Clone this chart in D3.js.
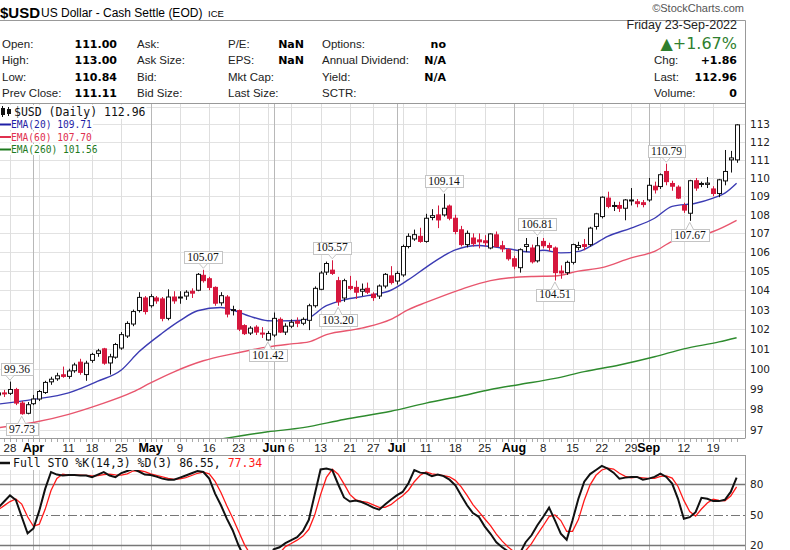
<!DOCTYPE html>
<html>
<head>
<meta charset="utf-8">
<script src="https://cdn.jsdelivr.net/npm/d3@7"></script>
<style>
  body { margin: 0; background: #fff; }
  svg { display: block; }
</style>
</head>
<body>
<svg id="chart" width="790" height="550" font-family="'Liberation Sans', Arial, sans-serif"></svg>
<script>
/* Chart data
--------------------------------------------------------------------------------
*/
var holidays = ["2022-04-15", "2022-05-30", "2022-06-20", "2022-07-04", "2022-09-05"];
var firstDay = "2022-03-24", lastDay = "2022-09-23";

var opens = [98.70,98.80,98.78,98.97,98.30,97.80,98.27,98.50,98.82,99.35,
  99.50,99.70,99.62,99.90,100.33,99.71,100.42,100.77,101.00,100.29,
  100.58,101.04,101.65,102.26,102.95,103.60,103.20,103.60,103.55,102.55,
  103.65,103.60,103.70,103.95,104.00,104.78,104.60,104.15,103.35,103.65,
  102.95,102.95,102.18,101.80,102.10,101.80,101.45,101.70,102.50,101.85,
  102.15,102.40,102.30,102.45,103.20,104.05,104.95,105.05,104.50,103.60,
  104.20,104.15,103.95,104.10,103.80,103.70,104.22,104.75,104.48,104.80,
  106.30,106.70,106.84,106.57,107.85,107.99,107.99,108.47,107.81,107.19,
  106.40,106.75,106.65,106.60,106.22,106.92,106.34,106.13,105.65,105.18,
  106.30,106.22,105.54,106.57,106.35,106.22,105.00,104.92,105.46,106.25,
  106.40,106.40,107.37,107.90,108.90,108.45,108.50,108.35,108.75,108.70,
  108.65,108.80,109.55,109.53,110.36,109.70,109.50,108.50,108.08,109.85,
  109.65,109.65,109.40,109.15,109.84,111.00,111.00];
var highs = [98.95,98.95,99.36,99.05,98.40,98.35,98.70,98.95,99.40,99.60,
  99.80,100.11,100.00,100.30,100.50,100.40,100.80,101.00,101.05,100.75,
  101.30,101.85,102.40,103.00,103.90,103.70,103.80,103.70,103.65,104.05,
  103.95,103.95,104.00,104.10,104.90,105.07,104.70,104.20,103.90,103.75,
  103.20,103.00,102.25,102.15,102.20,102.10,101.90,102.85,102.60,102.30,
  102.50,102.60,102.60,103.30,104.20,105.00,105.50,105.57,104.70,104.60,
  104.75,104.50,104.35,104.40,103.90,104.30,104.90,105.26,105.00,106.40,
  107.00,107.20,107.30,108.05,108.30,108.50,109.14,108.55,108.00,107.40,
  107.15,107.00,107.00,106.90,107.00,107.10,106.60,106.20,105.80,106.20,
  106.75,106.40,106.81,106.75,106.50,106.30,105.30,105.55,106.45,106.55,
  106.70,107.35,108.10,109.00,109.25,108.70,108.70,108.85,109.45,108.85,
  108.80,110.00,109.80,110.25,110.79,109.85,109.60,108.65,109.90,110.00,
  109.80,110.05,109.55,109.95,111.55,111.50,113.00];
var lows = [98.55,98.60,98.70,98.20,97.73,97.75,98.20,98.40,98.75,99.20,
  99.40,99.55,99.50,99.80,99.70,99.40,100.30,100.60,100.20,99.71,
  100.50,100.95,101.55,102.15,102.85,102.75,103.10,103.30,102.40,102.45,
  103.30,103.30,103.50,103.60,103.95,104.40,104.00,103.20,103.20,102.60,
  102.70,101.90,101.70,101.70,101.70,101.55,101.42,101.60,101.80,101.70,
  102.05,102.10,102.20,101.95,103.10,104.00,104.80,104.80,103.20,103.40,
  104.00,103.55,103.70,103.80,103.45,103.55,104.10,104.30,104.30,104.70,
  106.20,106.60,106.50,106.50,107.70,107.28,107.90,107.70,106.95,106.30,
  106.25,106.30,106.20,106.30,106.15,106.25,106.00,105.55,105.10,104.92,
  106.00,105.40,105.45,106.20,106.05,104.51,104.60,104.80,105.35,106.10,
  106.10,106.30,107.20,107.80,108.35,108.20,108.15,107.70,108.50,108.40,
  108.40,108.70,109.15,109.40,109.60,109.30,108.85,108.10,107.67,109.30,
  109.50,109.45,109.00,108.95,109.60,110.30,110.84];
var closes = [98.80,98.75,98.97,98.30,97.78,98.22,98.50,98.87,99.32,99.48,
  99.65,99.62,99.89,100.19,99.82,100.28,100.72,100.90,100.28,100.60,
  101.22,101.72,102.29,102.90,103.63,102.90,103.67,103.45,102.55,103.65,
  103.45,103.65,103.90,103.85,104.83,104.50,104.15,103.33,103.72,102.77,
  103.00,102.00,101.77,102.05,101.85,101.75,101.78,102.55,101.85,102.15,
  102.35,102.30,102.50,103.20,104.10,104.90,105.40,104.88,103.40,104.50,
  104.10,103.90,104.05,103.90,103.62,104.22,104.83,104.40,104.88,106.30,
  106.84,106.93,106.57,107.81,107.95,107.72,108.35,107.81,107.10,106.40,
  107.00,106.45,106.55,106.50,106.97,106.30,106.17,105.65,105.26,106.13,
  106.40,105.49,106.34,106.34,106.25,104.92,104.90,105.46,106.40,106.35,
  106.30,107.28,108.05,108.95,108.45,108.50,108.35,108.80,108.80,108.60,
  108.55,109.60,109.35,110.18,109.80,109.55,108.90,108.25,109.85,109.45,
  109.70,109.72,109.15,109.90,110.36,111.11,112.96];

// moving averages at a few dates
var ema20 = [["03-24",98.25],["04-01",98.48],["04-11",98.80],["04-19",99.38],["04-25",99.94],
  ["04-28",100.85],["05-04",101.80],["05-09",102.43],["05-12",102.94],["05-18",103.11],
  ["05-20",102.98],["05-25",102.65],["05-31",102.43],["06-02",102.42],["06-08",102.45],
  ["06-14",103.20],["06-17",103.50],["06-24",103.72],["06-30",104.00],["07-06",104.55],
  ["07-11",105.20],["07-14",105.80],["07-18",106.12],["07-22",106.35],["07-26",106.30],
  ["08-01",106.13],["08-04",106.00],["08-08",106.10],["08-11",105.96],["08-16",106.04],
  ["08-18",106.30],["08-23",106.84],["08-29",107.28],["09-02",107.81],["09-08",108.45],
  ["09-14",108.62],["09-19",108.90],["09-21",109.17],["09-23",109.71]];
var ema60 = [["03-24",97.10],["04-01",97.35],["04-11",97.75],["04-19",98.20],["04-27",98.85],
  ["05-02",99.30],["05-06",99.85],["05-13",100.40],["05-20",100.75],["05-31",101.10],
  ["06-06",101.25],["06-09",101.35],["06-14",101.72],["06-23",102.05],["06-30",102.50],
  ["07-06",103.00],["07-11",103.37],["07-19",104.05],["07-26",104.50],["08-04",104.72],
  ["08-10",104.74],["08-16",105.00],["08-22",105.18],["08-29",105.70],["09-02",106.04],
  ["09-08",106.57],["09-14",106.84],["09-19",107.10],["09-23",107.70]];
var ema260 = [["05-18",96.55],["05-31",96.90],["06-08",97.10],["06-17",97.50],["06-30",97.90],
  ["07-11",98.30],["07-19",98.65],["07-26",98.97],["08-02",99.22],["08-10",99.52],
  ["08-17",99.86],["08-25",100.19],["09-02",100.60],["09-12",101.00],["09-20",101.35],
  ["09-23",101.56]];

var stoK = [57,63,69,64.5,48,31.7,36.5,54,75.4,92,
  89.5,88.6,89,89,88.6,88.6,87,89.5,92,88.6,
  87,91,93,95,92.5,89.5,89,87.5,85.5,84.5,
  84.5,86.5,88.6,90.8,93,92,85.5,70.8,59.3,46.2,
  34.8,20,8,5,6,4,3,16,18,22,
  25,28,34,45,70,94.5,95.5,94,80,67,
  63,64,62.5,60,57,55,60,64.7,69,72.4,
  81,94,91.4,90.8,88,89.5,88,84.5,79,69,
  59.3,51.7,48,38.6,31.3,23,18,14,9,12,
  23,29.8,39.7,48,57,44.5,31.3,25.4,44.5,65.7,
  82.5,90,94,98,95.4,91.4,85.5,86.5,87.2,87.2,
  84.5,85.5,87.2,90.5,87.2,80.6,65.7,46,47.6,52.5,
  66.7,65.7,63.4,63.4,64.7,72.4,86.55];
var stoD = [55,59,63,65.5,60.5,48,38.7,40.7,55.3,73.8,
  85.6,90,89,88.9,88.9,88.7,88.1,88.4,89.5,90,
  89.2,88.9,90.3,93,93.5,92.3,90.3,88.7,87.3,85.8,
  84.8,85.2,86.5,88.6,90.8,91.9,90.2,82.8,71.9,58.8,
  46.8,33.7,20.9,11,6.3,5,4.3,7.7,12.3,18.7,
  21.7,25,29,35.7,49.7,69.8,86.7,94.7,89.8,80.3,
  70,64.7,63.2,62.2,59.8,57.3,57.3,59.9,64.6,68.7,
  74.1,82.5,88.8,92.1,90.1,89.4,88.5,87.3,83.8,77.5,
  69.1,60,53,46.1,39.3,31,24.1,18.3,13.7,11.7,
  14.7,21.6,30.8,39.2,48.2,49.8,44.3,33.7,33.7,45.2,
  64.2,79.4,88.8,94,95.8,94.9,90.8,87.8,86.4,87,
  86.3,85.7,85.7,87.7,88.3,86.1,77.8,64.1,53.1,48.7,
  55.6,61.6,65.3,64.2,63.8,68.5,77.34];

var peakDates = ["03-28","03-30","05-13","05-31","06-15","06-16","07-14","08-05","08-10","09-07","09-13"];
var peakValues = [99.36,97.73,105.07,101.42,105.57,103.20,109.14,106.81,104.51,110.79,107.67];
var peakKinds = ["high","low","high","low","high","low","high","high","low","high","low"];

var priceTicks = [97,98,99,100,101,102,103,104,105,106,107,108,109,110,111,112,113];
var priceGrid = [97,98,99,100,101,102,103,104,105,106,107,108,109,110,111,112,113,114];
var stoTicks = [80,50,20];

/* Layout
--------------------------------------------------------------------------------
*/
var svg = d3.select("#chart");
var right = 745,
    priceTop = 103, priceBottom = 438,
    stoTop = 455, stoBottom = 560;
var sans = "'DejaVu Sans', sans-serif",
    mono = "'DejaVu Sans Mono', monospace",
    serif = "'Liberation Serif', serif";

var parseDay = d3.timeParse("%Y-%m-%d"),
    fmtDay = d3.timeFormat("%Y-%m-%d");

var dates = d3.timeDay.range(parseDay(firstDay), d3.timeDay.offset(parseDay(lastDay), 1))
  .filter(function(d) { return d.getDay() > 0 && d.getDay() < 6 && holidays.indexOf(fmtDay(d)) < 0; })
  .map(fmtDay);

var x = d3.scalePoint().domain(dates).range([-1.72, 736.6]);
var y = d3.scaleLog().domain([96.6, 114.2]).range([priceBottom, priceTop]);
var ySto = d3.scaleLinear().domain([0, 100]).range([565.6, 463.9]);

function px(v) { return Math.round(v) + 0.5; }
function day(md) { return "2022-" + md; }

var defs = svg.append("defs");
defs.append("clipPath").attr("id", "clipPrice").append("rect")
  .attr("x", 0).attr("y", priceTop).attr("width", right).attr("height", priceBottom - priceTop);
defs.append("clipPath").attr("id", "clipSto").append("rect")
  .attr("x", 0).attr("y", stoTop).attr("width", right).attr("height", stoBottom - stoTop);

/* Header
--------------------------------------------------------------------------------
*/
var head = svg.append("g");
head.append("text").attr("x", 0).attr("y", 18).attr("font-size", 15).attr("font-weight", "bold").text("$USD");
head.append("text").attr("x", 41).attr("y", 17).attr("font-size", 12).text("US Dollar - Cash Settle (EOD)");
head.append("text").attr("x", 208).attr("y", 17).attr("font-size", 9.5).text("ICE");
head.append("text").attr("x", 744).attr("y", 12).attr("text-anchor", "end")
  .attr("font-size", 11).attr("fill", "#555").text("\u00a9StockCharts.com");

head.append("line").attr("x1", 0).attr("x2", right + 0.5).attr("y1", 20.5).attr("y2", 20.5).attr("stroke", "#999");
head.append("line").attr("x1", right + 0.5).attr("x2", right + 0.5).attr("y1", 20.5).attr("y2", priceBottom).attr("stroke", "#999");

var infoLabels = [["Open:", "High:", "Low:", "Prev Close:"],
                  ["Ask:", "Ask Size:", "Bid:", "Bid Size:"],
                  ["P/E:", "EPS:", "Mkt Cap:", "Last Size:"],
                  ["Options:", "Annual Dividend:", "Yield:", "SCTR:"]];
var infoValues = [["111.00", "113.00", "110.84", "111.11"],
                  ["", "", "", ""],
                  ["NaN", "NaN", "", ""],
                  ["no", "N/A", "N/A", ""]];
var labelX = [2, 137, 228, 322], valueEnd = [117, 0, 304, 446];
var rowY = [47.5, 64, 80.5, 97];

infoLabels.forEach(function(col, c) {
  col.forEach(function(lab, r) {
    head.append("text").attr("x", labelX[c]).attr("y", rowY[r]).attr("font-size", 11.5).attr("fill", "#222").text(lab);
    if (infoValues[c][r]) {
      head.append("text").attr("x", valueEnd[c]).attr("y", rowY[r]).attr("text-anchor", "end")
        .attr("font-family", sans).attr("font-weight", "bold").attr("font-size", 11)
        .text(infoValues[c][r]);
    }
  });
});

head.append("text").attr("x", 737).attr("y", 29).attr("text-anchor", "end").attr("font-size", 12.5).attr("fill", "#222")
  .text("Friday  23-Sep-2022");
head.append("text").attr("x", 737).attr("y", 49).attr("text-anchor", "end")
  .attr("font-family", sans).attr("font-size", 16).attr("fill", "#2f7f2f")
  .text("\u25b2+1.67%");
var rightRows = [["Chg:", "+1.86"], ["Last:", "112.96"], ["Volume:", "0"]];
rightRows.forEach(function(r, k) {
  head.append("text").attr("x", 654).attr("y", rowY[k + 1]).attr("font-size", 11.5).attr("fill", "#222").text(r[0]);
  head.append("text").attr("x", 737).attr("y", rowY[k + 1]).attr("text-anchor", "end")
    .attr("font-family", sans).attr("font-weight", "bold").attr("font-size", 11).text(r[1]);
});

/* Grid
--------------------------------------------------------------------------------
*/
var weekStarts = [], monthStarts = [];
dates.forEach(function(d, i) {
  if (i === 0) return;
  var cur = parseDay(d), prev = parseDay(dates[i - 1]);
  if (cur.getMonth() !== prev.getMonth()) monthStarts.push(i);
  if (+d3.timeMonday.floor(cur) !== +d3.timeMonday.floor(prev)) weekStarts.push(i);
});

var grid = svg.append("g");
priceGrid.forEach(function(v) {
  grid.append("line").attr("x1", 0).attr("x2", right).attr("y1", px(y(v))).attr("y2", px(y(v))).attr("stroke", "#e2e2e2");
});
d3.range(10, 100, 10).forEach(function(v) {
  if (stoTicks.indexOf(v) >= 0) return;
  grid.append("line").attr("x1", 0).attr("x2", right).attr("y1", px(ySto(v))).attr("y2", px(ySto(v))).attr("stroke", "#ececec");
});
var vlines = weekStarts.concat(monthStarts.filter(function(m) { return weekStarts.indexOf(m) < 0; }));
vlines.forEach(function(i) {
  var isMonth = monthStarts.indexOf(i) >= 0;
  var col = isMonth ? "#b8b8b8" : "#dedede";
  var xx = px(x(dates[i]));
  grid.append("line").attr("x1", xx).attr("x2", xx).attr("y1", priceTop).attr("y2", priceBottom).attr("stroke", col);
  grid.append("line").attr("x1", xx).attr("x2", xx).attr("y1", stoTop).attr("y2", stoBottom).attr("stroke", col);
});

// panel borders
svg.append("line").attr("x1", 0).attr("x2", right + 0.5).attr("y1", priceTop + 0.5).attr("y2", priceTop + 0.5).attr("stroke", "#999");
svg.append("line").attr("x1", 0).attr("x2", right + 0.5).attr("y1", priceBottom + 0.5).attr("y2", priceBottom + 0.5).attr("stroke", "#999");
svg.append("line").attr("x1", 0).attr("x2", right + 0.5).attr("y1", stoTop + 0.5).attr("y2", stoTop + 0.5).attr("stroke", "#999");
svg.append("line").attr("x1", right + 0.5).attr("x2", right + 0.5).attr("y1", stoTop).attr("y2", 550).attr("stroke", "#999");

/* Axes
--------------------------------------------------------------------------------
*/
var axes = svg.append("g");
priceTicks.forEach(function(v) {
  axes.append("text").attr("x", 750).attr("y", y(v) + 4).attr("font-family", sans)
    .attr("font-size", 10.5).attr("fill", "#222").text(v);
});
stoTicks.forEach(function(v) {
  axes.append("text").attr("x", 750).attr("y", ySto(v) + 4).attr("font-family", sans)
    .attr("font-size", 10.5).attr("fill", "#222").text(v);
});
dates.forEach(function(d) {
  var xx = px(x(d));
  axes.append("line").attr("x1", xx).attr("x2", xx).attr("y1", priceBottom + 1).attr("y2", priceBottom + 4).attr("stroke", "#aaa");
});
var fmtMonth = d3.timeFormat("%b");
monthStarts.forEach(function(i) {
  axes.append("text").attr("x", x(dates[i])).attr("y", 452).attr("text-anchor", "middle")
    .attr("font-size", 12.5).attr("font-weight", "bold").text(fmtMonth(parseDay(dates[i])));
});
weekStarts.forEach(function(i) {
  var near = monthStarts.some(function(m) { return Math.abs(m - i) <= 2; });
  if (near) return;
  axes.append("text").attr("x", x(dates[i])).attr("y", 452).attr("text-anchor", "middle")
    .attr("font-size", 11.5).attr("fill", "#222").text(+d3.timeFormat("%d")(parseDay(dates[i])));
});

/* Price panel
--------------------------------------------------------------------------------
*/
var gPrice = svg.append("g").attr("clip-path", "url(#clipPrice)");

var emaLine = d3.line()
  .x(function(d) { return x(day(d[0])); })
  .y(function(d) { return y(d[1]); })
  .curve(d3.curveMonotoneX);

gPrice.append("path").datum(ema260).attr("d", emaLine).attr("fill", "none").attr("stroke", "#2e8b2e").attr("stroke-width", 1.4);
gPrice.append("path").datum(ema60).attr("d", emaLine).attr("fill", "none").attr("stroke", "#e8566e").attr("stroke-width", 1.4);
gPrice.append("path").datum(ema20).attr("d", emaLine).attr("fill", "none").attr("stroke", "#3b3bb3").attr("stroke-width", 1.4);

var candles = dates.map(function(d, i) {
  return { date: d, o: opens[i], h: highs[i], l: lows[i], c: closes[i] };
});
var upCol = "#111", downCol = "#d6173d";

gPrice.selectAll(".wick").data(candles).join("line")
  .attr("x1", function(d) { return px(x(d.date)); })
  .attr("x2", function(d) { return px(x(d.date)); })
  .attr("y1", function(d) { return y(d.h); })
  .attr("y2", function(d) { return y(d.l); })
  .attr("stroke", function(d) { return d.c >= d.o ? upCol : downCol; });

gPrice.selectAll(".body").data(candles).join("rect")
  .attr("x", function(d) { return Math.round(x(d.date)) - 2 + 0.5; })
  .attr("y", function(d) { return y(Math.max(d.o, d.c)); })
  .attr("width", 4)
  .attr("height", function(d) { return Math.max(1, Math.abs(y(d.o) - y(d.c))); })
  .attr("fill", function(d) { return d.c >= d.o ? "#fff" : downCol; })
  .attr("stroke", function(d) { return d.c >= d.o ? upCol : downCol; });

// high / low call-outs
var notes = svg.append("g").attr("clip-path", "url(#clipPrice)");
peakDates.forEach(function(md, k) {
  var cx = x(day(md)), vy = y(peakValues[k]), isHigh = peakKinds[k] === "high";
  var g = notes.append("g");
  var t = g.append("text").attr("text-anchor", "middle")
    .attr("font-family", serif).attr("font-size", 11.5).attr("fill", "#111")
    .text(peakValues[k].toFixed(2));
  var w = Math.round(t.node().getComputedTextLength() + 6), h = 12;
  var left = Math.max(1, Math.round(cx - w / 2));
  var top = isHigh ? vy - 6.5 - h : vy + 8.5;
  t.attr("x", left + w / 2).attr("y", top + 9.5);
  g.insert("rect", "text").attr("x", left + 0.5).attr("y", Math.round(top) + 0.5)
    .attr("width", w).attr("height", h).attr("fill", "#fff").attr("stroke", "#c4c4c4");
  var edge = isHigh ? top + h : top, tip = isHigh ? vy - 1.5 : vy + 1.5;
  g.append("path")
    .attr("d", "M" + (cx - 4) + "," + (edge + 0.5) + "L" + cx + "," + tip + "L" + (cx + 4) + "," + (edge + 0.5))
    .attr("fill", "#fff").attr("stroke", "#c4c4c4");
});

/* Stochastics panel
--------------------------------------------------------------------------------
*/
var gSto = svg.append("g").attr("clip-path", "url(#clipSto)");
stoTicks.forEach(function(v) {
  gSto.append("line").attr("x1", 0).attr("x2", right).attr("y1", px(ySto(v))).attr("y2", px(ySto(v)))
    .attr("stroke", "#777").attr("stroke-width", v === 50 ? 1 : 1.5)
    .attr("stroke-dasharray", v === 50 ? "9,3,2,3" : null);
});
var stoLine = function(vals) {
  return d3.line()
    .x(function(d, i) { return x(dates[i]); })
    .y(function(d) { return ySto(d); })(vals);
};
gSto.append("path").attr("d", stoLine(stoD)).attr("fill", "none").attr("stroke", "#ff1a1a").attr("stroke-width", 1.3);
gSto.append("path").attr("d", stoLine(stoK)).attr("fill", "none").attr("stroke", "#111").attr("stroke-width", 2);

/* Legends
--------------------------------------------------------------------------------
*/
function addLegend(x0, yBase, parts, size) {
  var g = svg.append("g");
  var t = g.append("text").attr("x", x0).attr("y", yBase)
    .attr("font-family", mono).attr("font-size", size);
  parts.forEach(function(p) { t.append("tspan").attr("fill", p[1]).text(p[0]); });
  var b = t.node().getBBox();
  g.insert("rect", "text").attr("x", 0).attr("y", b.y).attr("width", b.x + b.width + 1).attr("height", b.height)
    .attr("fill", "#fff");
}
addLegend(14, 116, [["$USD (Daily) 112.96", "#111"]], 11.5);
addLegend(11, 128, [["EMA(20) 109.71", "#1f1fa6"]], 9.6);
addLegend(11, 140.5, [["EMA(60) 107.70", "#e0304f"]], 9.6);
addLegend(11, 153, [["EMA(260) 101.56", "#1e7a1e"]], 9.6);
addLegend(13, 467, [["Full STO %K(14,3) %D(3) 86.55, ", "#111"], ["77.34", "#ff1a1a"]], 11.5);

var icons = svg.append("g");
icons.append("line").attr("x1", 2.5).attr("x2", 2.5).attr("y1", 106).attr("y2", 117).attr("stroke", "#111");
icons.append("rect").attr("x", 1).attr("y", 108).attr("width", 4).attr("height", 7).attr("fill", "#111");
icons.append("line").attr("x1", 8.5).attr("x2", 8.5).attr("y1", 107).attr("y2", 116).attr("stroke", "#111");
icons.append("rect").attr("x", 7).attr("y", 109).attr("width", 4).attr("height", 5).attr("fill", "#111");
icons.append("line").attr("x1", 0).attr("x2", 11).attr("y1", 124.5).attr("y2", 124.5).attr("stroke", "#1f1fa6").attr("stroke-width", 2);
icons.append("line").attr("x1", 0).attr("x2", 11).attr("y1", 137).attr("y2", 137).attr("stroke", "#e0304f").attr("stroke-width", 2);
icons.append("line").attr("x1", 0).attr("x2", 11).attr("y1", 149.5).attr("y2", 149.5).attr("stroke", "#1e7a1e").attr("stroke-width", 2);
icons.append("line").attr("x1", 0).attr("x2", 10).attr("y1", 463).attr("y2", 463).attr("stroke", "#111").attr("stroke-width", 2.5);
</script>
</body>
</html>
